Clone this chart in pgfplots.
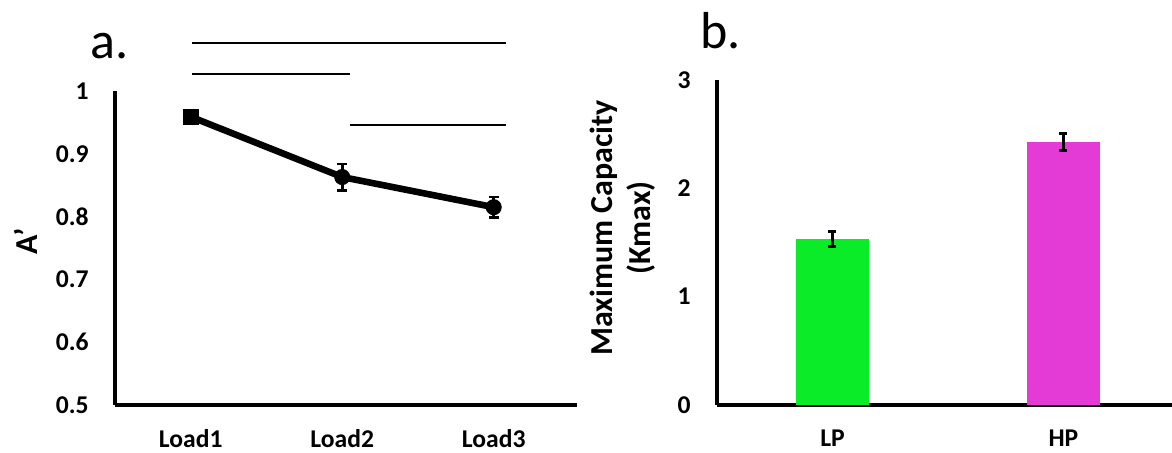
\documentclass[border=0pt]{standalone}
\usepackage{fontspec}
\setmainfont{Carlito}
\usepackage{pgfplots}
\pgfplotsset{compat=1.18}
\definecolor{lpGreen}{RGB}{11,236,41}
\definecolor{hpMagenta}{RGB}{228,58,214}

\pgfplotsset{
  panel/.style={
    scale only axis,
    axis x line=bottom, axis y line=left,
    axis line style={line width=2pt, -},
    major tick length=0pt,
    /pgf/number format/assume math mode=true,
    tick label style={inner sep=0pt, font=\fontsize{12.8}{15}\selectfont\bfseries},
    xticklabel style={yshift=-12pt},
    yticklabel style={xshift=-13pt},
    clip=false,
  }
}

\begin{document}
\begin{tikzpicture}
\useasboundingbox (0,0) rectangle (586pt,226pt);

% panel a: A' by load
\begin{axis}[panel,
    at={(57.5pt,23.5pt)}, anchor=south west,
    width=231pt, height=157pt,
    xmin=0.5, xmax=3.55, ymin=0.5, ymax=1,
    xtick={1,2,3}, xticklabels={Load1,Load2,Load3},
    ytick={0.5,0.6,0.7,0.8,0.9,1},
    yticklabels={0.5,0.6,0.7,0.8,0.9,1},
]
\addplot[black, line width=3.3pt, mark=none,
  error bars/.cd, y dir=both, y explicit,
  error bar style={line width=1.3pt},
  error mark options={rotate=90, mark size=2.5pt, line width=1.3pt}]
  coordinates {(1,0.959) +- (0,0.004) (2,0.863) +- (0,0.021) (3,0.815) +- (0,0.016)};
\addplot[only marks, mark=square*, mark size=3.7pt, black] coordinates {(1,0.959)};
\addplot[only marks, mark=*, mark size=3.8pt, black] coordinates {(2,0.863)(3,0.815)};
% significance bars
\addplot[black, line width=1pt, mark=none] coordinates {(1.01,1.076)(3.08,1.076)};
\addplot[black, line width=1pt, mark=none] coordinates {(1.01,1.027)(2.05,1.027)};
\addplot[black, line width=1pt, mark=none] coordinates {(2.05,0.946)(3.08,0.946)};
\end{axis}

% panel b: maximum capacity
\begin{axis}[panel,
    at={(358.5pt,23.5pt)}, anchor=south west,
    width=227.5pt, height=162.5pt,
    xmin=0.5, xmax=2.47, ymin=0, ymax=3,
    xtick={1,2}, xticklabels={LP,HP},
    ytick={0,1,2,3},
]
\addplot[ybar, bar shift=0pt, bar width=36.5pt, fill=lpGreen, draw=none,
  error bars/.cd, y dir=both, y explicit,
  error bar style={black, line width=1.5pt},
  error mark options={black, rotate=90, mark size=2pt, line width=1.5pt}]
  coordinates {(1,1.53) +- (0,0.07)};
\addplot[ybar, bar shift=0pt, bar width=36.5pt, fill=hpMagenta, draw=none,
  error bars/.cd, y dir=both, y explicit,
  error bar style={black, line width=1.5pt},
  error mark options={black, rotate=90, mark size=2pt, line width=1.5pt}]
  coordinates {(2,2.43) +- (0,0.08)};
\end{axis}

% panel letters and axis titles
\node[anchor=base west, inner sep=0pt, font=\fontsize{26}{30}\selectfont] at (45pt,197pt) {a.};
\node[anchor=base west, inner sep=0pt, font=\fontsize{26}{30}\selectfont] at (350pt,202pt) {b.};
\node[rotate=90, inner sep=0pt, font=\fontsize{16}{19}\selectfont\bfseries] at (12.75pt,105.5pt) {A’};
\node[rotate=90, inner sep=0pt, align=center, font=\fontsize{16}{19}\selectfont\bfseries] at (311.5pt,112pt) {Maximum Capacity\\(Kmax)};
\end{tikzpicture}
\end{document}
